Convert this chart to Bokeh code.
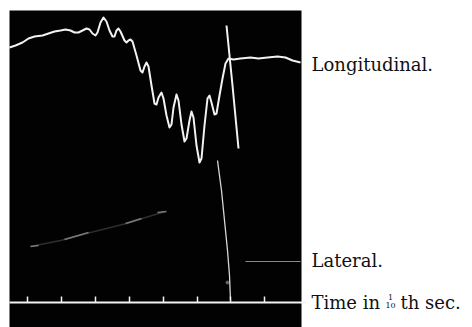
from bokeh.plotting import figure
from bokeh.models import Range1d
from bokeh.core.properties import value
from bokeh.embed import file_html
from bokeh.resources import INLINE

# Digitised record coordinates (x: along the record, y: measured down from the top of the sheet)
long_x = [9, 15, 22, 28, 34, 42, 48, 54, 60, 65, 70, 74, 78, 82, 86, 89, 92, 95, 97, 100,
          103, 106, 109, 112, 114, 116, 118, 120, 124, 126, 128, 130, 132, 136, 140, 142, 144, 146, 148, 151,
          154, 156, 158, 161, 163, 166, 169, 171, 173, 176, 178, 181, 184, 186, 189, 191, 193, 196, 199, 201,
          204, 207, 209, 211, 214, 216, 219, 222, 225, 228, 233, 240, 250, 258, 267, 277, 285, 292, 300]
long_y = [47, 45, 42, 38, 36, 35, 33, 31, 30, 29, 30, 32, 32, 30, 28, 29, 33, 35, 32, 22,
          17, 21, 30, 36, 36, 30, 28, 31, 40, 42, 40, 39, 41, 55, 70, 72, 66, 62, 66, 85,
          103, 104, 97, 92, 98, 115, 127, 124, 107, 94, 100, 124, 141, 138, 120, 111, 117, 145, 162, 158,
          125, 98, 95, 102, 114, 113, 95, 78, 63, 58, 59, 58, 57, 58, 57, 56, 57, 60, 62]

spike_x = [226, 232, 238]
spike_y = [25, 85, 148]

fall_x = [217, 221, 224, 227, 229, 230]
fall_y = [160, 190, 220, 250, 275, 300]

lat1_x = [30, 45, 60, 75, 90, 110, 130, 145, 165]
lat1_y = [246, 243, 240, 236, 232, 227, 222, 217, 211]
lat_frag_x = [[30, 38], [64, 88], [125, 141], [157, 166]]
lat_frag_y = [[246, 245], [239, 232], [223, 218], [212, 211]]
lat2_x = [245, 300]
lat2_y = [261, 261]

time_marks = [27, 61, 95, 129, 163, 197, 230, 264]

labels = ["Longitudinal.", "Lateral."]

p = figure(width=472, height=327, x_range=Range1d(0, 472), y_range=Range1d(327, 0),
           output_backend="svg", toolbar_location=None, min_border=0)
p.axis.visible = False
p.grid.visible = False
p.outline_line_color = None
p.background_fill_color = "white"
p.border_fill_color = "white"

# record frame
p.quad(left=9, right=301, top=10, bottom=327, fill_color="#020202", line_color=None)

# traces
p.line(lat1_x, lat1_y, line_color="#2e2e2e", line_width=1.5)
p.multi_line(lat_frag_x, lat_frag_y, line_color="#7a7a7a", line_width=1.5)
p.line(lat2_x, lat2_y, line_color="#8a8a8a", line_width=1.2)
p.scatter([227], [282], size=3, color="#666666")
p.line(fall_x, fall_y, line_color="#d8d8d8", line_width=1.3)
p.line(long_x, long_y, line_color="#f2f2f2", line_width=2, line_join="round")
p.line(spike_x, spike_y, line_color="#f2f2f2", line_width=2)

# time line with marks
p.segment(x0=[9], y0=[302], x1=[305], y1=[302], line_color="#f2f2f2", line_width=2)
p.segment(x0=time_marks, y0=[302] * len(time_marks), x1=time_marks, y1=[296] * len(time_marks),
          line_color="#f2f2f2", line_width=1.5)

# labels
font = value("DejaVu Serif")
col = "#111111"
p.text(x=[311, 311], y=[64, 260], text=labels, text_font=font, text_font_size="18px",
       text_baseline="middle", text_color=col)
p.text(x=[311], y=[302], text=["Time in"], text_font=font, text_font_size="18px",
       text_baseline="middle", text_color=col)
p.text(x=[390], y=[297], text=["1"], text_font=font, text_font_size="8px",
       text_baseline="middle", text_align="center", text_color=col)
p.text(x=[390], y=[305], text=["10"], text_font=font, text_font_size="8px",
       text_baseline="middle", text_align="center", text_color=col)
p.text(x=[400], y=[302], text=["th sec."], text_font=font, text_font_size="18px",
       text_baseline="middle", text_color=col)

open("out.html", "w").write(file_html(p, INLINE))
